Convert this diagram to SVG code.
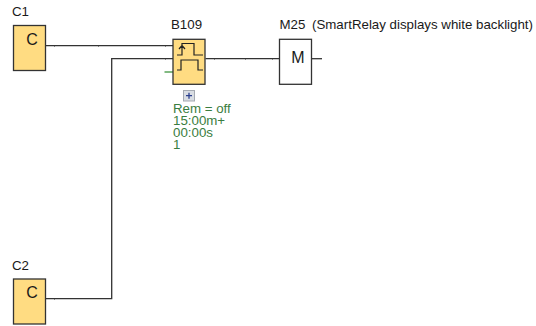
<svg xmlns="http://www.w3.org/2000/svg" width="536" height="326" viewBox="0 0 536 326">
<style>
text{font-family:"Liberation Sans",Arial,sans-serif;font-size:13.3px;fill:#1a1a1a}
.blk{fill:#ffdc82;stroke:#333;stroke-width:1.3}
.wire{fill:none;stroke:#333;stroke-width:1.3}
.tick{fill:none;stroke:#333;stroke-width:1}
.sym{fill:none;stroke:#222;stroke-width:1.2}
.big{font-size:16px;text-anchor:middle}
.par{fill:#3a7d40}
</style>
<rect width="536" height="326" fill="#fff"/>
<g id="connectors">
<path class="wire" d="M45.500 45.700H173"/>
<path class="wire" d="M173 58.700H111.700V298.700H45"/>
<path class="wire" d="M205.500 58.700H279"/>
<path class="wire" d="M312 58.700H322"/>
<path d="M164.500 72H173" fill="none" stroke="#2e8b2e" stroke-width="1.2"/>
<path class="tick" d="M54.500 45V46.500M98.500 45V46.500M165.500 45V46.500M165.500 58V59.500M214.500 58V59.500M245.500 58V59.500M272.500 58V59.500M54.500 298V299.500"/>
</g>
<g id="C1">
<text x="12" y="16">C1</text>
<rect class="blk" x="13.500" y="25.500" width="32" height="45"/>
<text class="big" x="32" y="44.500">C</text>
</g>
<g id="C2">
<text x="12" y="270">C2</text>
<rect class="blk" x="13.500" y="279" width="32" height="45"/>
<text class="big" x="32" y="297.500">C</text>
</g>
<g id="B109">
<text x="171" y="29">B109</text>
<rect class="blk" x="173" y="39.300" width="32" height="45"/>
<path class="sym" d="M177 55H182V43.500H194V55H203M182 46.500V54M179 49L182 45.500L185 49"/>
<path class="sym" d="M177 70H181V60H198V70H203"/>
<rect x="183.500" y="90.500" width="11" height="10.500" fill="#d9dde3" stroke="#a5aab2"/>
<path d="M186 95.700H192M189 92.700V98.700" stroke="#2b3f8f" stroke-width="1.3" fill="none"/>
<text class="par" x="173" y="113">Rem = off</text>
<text class="par" x="173" y="125">15:00m+</text>
<text class="par" x="173" y="137">00:00s</text>
<text class="par" x="173" y="149">1</text>
</g>
<g id="M25">
<text x="279.500" y="29">M25</text>
<text x="312" y="29">(SmartRelay displays white backlight)</text>
<rect x="279.500" y="39.300" width="32" height="45" fill="#fff" stroke="#333" stroke-width="1.3"/>
<text class="big" x="298" y="63">M</text>
</g>
</svg>
